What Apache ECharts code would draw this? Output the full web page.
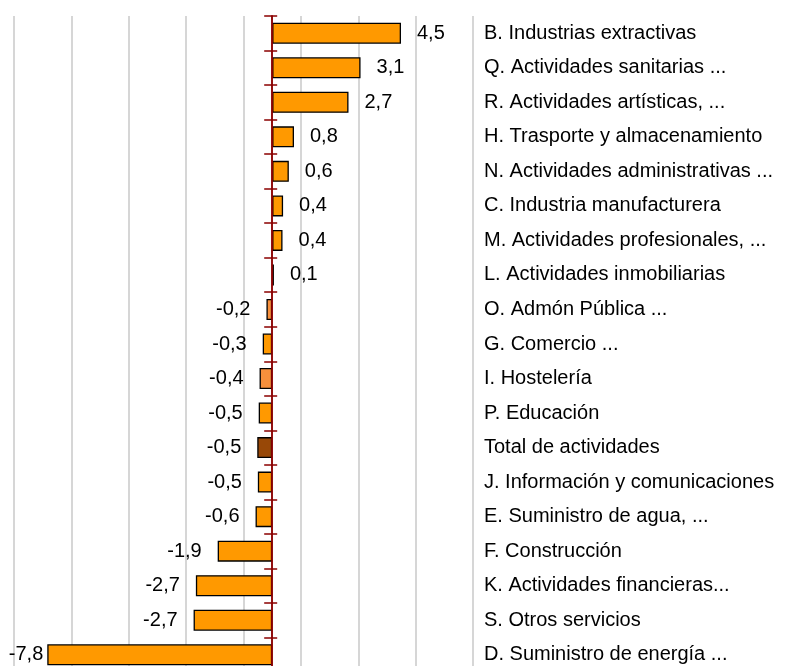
<!DOCTYPE html>
<html>
<head>
<meta charset="utf-8">
<script src="https://cdn.jsdelivr.net/npm/echarts@6/dist/echarts.min.js"></script>
<style>
  html, body { margin: 0; padding: 0; background: #fff; }
  #main { width: 800px; height: 666px; }
</style>
</head>
<body>
<div id="main"></div>
<script type="text/javascript">
  // sectores, de arriba a abajo
  var categories = [
    'B. Industrias extractivas',
    'Q. Actividades sanitarias ...',
    'R. Actividades artísticas, ...',
    'H. Trasporte y almacenamiento',
    'N. Actividades administrativas ...',
    'C. Industria manufacturera',
    'M. Actividades profesionales, ...',
    'L. Actividades inmobiliarias',
    'O. Admón Pública ...',
    'G. Comercio ...',
    'I. Hostelería',
    'P. Educación',
    'Total de actividades',
    'J. Información y comunicaciones',
    'E. Suministro de agua, ...',
    'F. Construcción',
    'K. Actividades financieras...',
    'S. Otros servicios',
    'D. Suministro de energía ...'
  ];
  // variación (%)
  var values = [4.49, 3.08, 2.66, 0.76, 0.58, 0.38, 0.36, 0.06, -0.2, -0.33, -0.44, -0.47, -0.52, -0.5, -0.58, -1.9, -2.66, -2.74, -7.84];

  // colores
  var barColor = '#FF9900';
  var lightColor = '#F7903C';
  var totalColor = '#984807';
  var lighter = ['O. Admón Pública ...', 'I. Hostelería'];
  var totalName = 'Total de actividades';
  var axisRed = '#8B0000';
  var font = "'Liberation Sans', Arial, sans-serif";

  var chart = echarts.init(document.getElementById('main'));

  var seriesData = values.map(function (v, i) {
    var name = categories[i];
    var c = barColor;
    if (lighter.indexOf(name) >= 0) c = lightColor;
    if (name === totalName) c = totalColor;
    var item = {
      value: v,
      itemStyle: { color: c },
      label: { position: v < 0 ? 'left' : 'right' }
    };
    // etiqueta pegada al borde del grafico
    if (v < -7) item.label.distance = 4;
    return item;
  });

  var gridBox = { left: 14, right: 327, top: 16, bottom: -6, outerBoundsMode: 'none', containLabel: false };

  chart.setOption({
    animation: false,
    grid: [gridBox, gridBox],
    xAxis: [
      { gridIndex: 0, type: 'value', min: -9, max: 7, show: false },
      {
        gridIndex: 0, type: 'value', min: 0, max: 16, interval: 2,
        axisLine: { show: false }, axisTick: { show: false }, axisLabel: { show: false },
        splitLine: { show: true, lineStyle: { color: '#C8C8C8', width: 1.5 } }
      },
      { gridIndex: 1, type: 'value', min: -9, max: 7, show: false }
    ],
    yAxis: [
      {
        gridIndex: 0, type: 'category', data: categories, inverse: true, z: 5,
        axisLine: { show: true, onZero: true, onZeroAxisIndex: 0, lineStyle: { color: axisRed, width: 1.5 } },
        axisTick: { show: true, length: 8, lineStyle: { color: axisRed, width: 1.5 } },
        axisLabel: { show: false }
      },
      {
        gridIndex: 0, type: 'category', data: categories, inverse: true, position: 'right',
        axisLine: { show: false, onZero: false }, axisTick: { show: false },
        axisLabel: { show: true, margin: 11, color: '#000', fontSize: 20, fontFamily: font, align: 'left' }
      },
      {
        gridIndex: 1, type: 'category', data: categories, inverse: true, z: 5,
        axisLine: { show: true, onZero: true, onZeroAxisIndex: 2, lineStyle: { color: axisRed, width: 1.5 } },
        axisTick: { show: true, inside: true, length: 5, lineStyle: { color: axisRed, width: 1.5 } },
        axisLabel: { show: false }
      }
    ],
    series: [{
      type: 'bar',
      xAxisIndex: 0,
      yAxisIndex: 0,
      barWidth: 21,
      data: seriesData,
      itemStyle: { borderColor: '#000', borderWidth: 1.3 },
      label: {
        show: true,
        distance: 16,
        color: '#000',
        fontSize: 20,
        fontFamily: font,
        formatter: function (p) {
          return p.value.toFixed(1).replace('.', ',');
        }
      }
    }]
  });
</script>
</body>
</html>
